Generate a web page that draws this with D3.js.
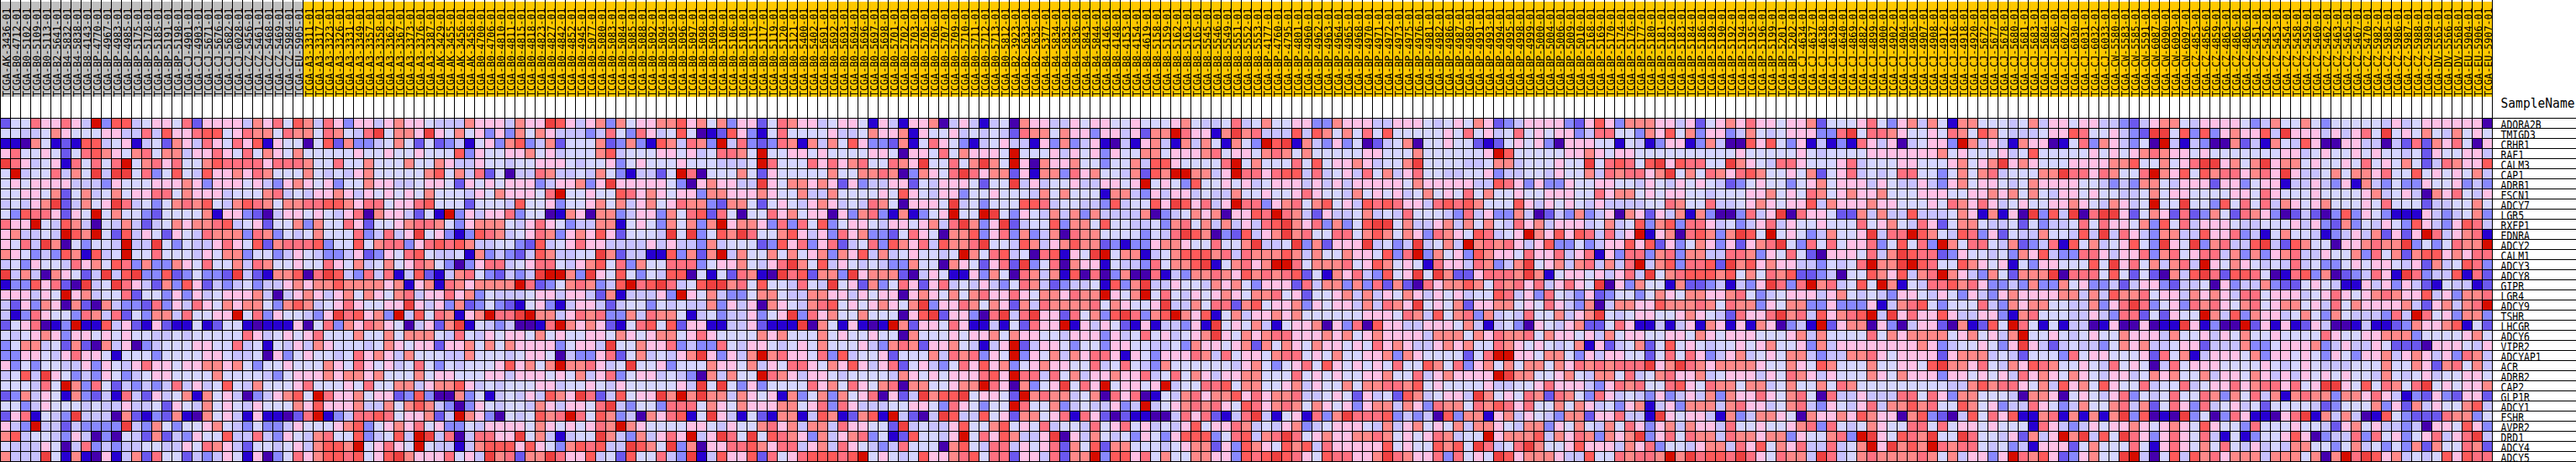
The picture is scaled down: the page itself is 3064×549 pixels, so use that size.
<!DOCTYPE html>
<html><head><meta charset="utf-8">
<style>html,body{margin:0;padding:0;background:#fff;overflow:hidden}svg{display:block}</style>
<script src="https://cdn.jsdelivr.net/npm/d3@7"></script></head><body><div id="chart"></div>
<script>
const genes=["ADORA2B","TMIGD3","CRHR1","RAF1","CALM3","CAP1","ADRB1","FSCN1","ADCY7","LGR5","RXFP1","EDNRA","ADCY2","CALM1","ADCY3","ADCY8","GIPR","LGR4","ADCY9","TSHR","LHCGR","ADCY6","VIPR2","ADCYAP1","ACR","ADRB2","CAP2","GLP1R","ADCY1","FSHR","AVPR2","DRD1","ADCY4","ADCY5"];
const graySamples=["AK-3436","B0-4712","B0-5102","B0-5109","B0-5113","B2-5641","B4-5832","B4-5838","B8-4143","BP-4770","BP-4967","BP-4983","BP-4985","BP-5175","BP-5178","BP-5185","BP-5191","BP-5198","CJ-4901","CJ-4903","CJ-5671","CJ-5676","CJ-5682","CJ-6028","CZ-5456","CZ-5461","CZ-5468","CZ-5469","CZ-5984","EU-5905"];
const orangeSamples=["A3-3311","A3-3317","A3-3323","A3-3326","A3-3331","A3-3349","A3-3357","A3-3358","A3-3362","A3-3367","A3-3373","A3-3376","A3-3387","AK-3429","AK-3455","AK-3456","AK-3458","B0-4700","B0-4706","B0-4810","B0-4811","B0-4815","B0-4818","B0-4823","B0-4827","B0-4842","B0-4852","B0-4945","B0-5077","B0-5080","B0-5083","B0-5084","B0-5085","B0-5088","B0-5092","B0-5094","B0-5095","B0-5096","B0-5097","B0-5098","B0-5099","B0-5100","B0-5106","B0-5108","B0-5115","B0-5117","B0-5119","B0-5120","B0-5121","B0-5400","B0-5402","B0-5691","B0-5692","B0-5693","B0-5694","B0-5696","B0-5697","B0-5698","B0-5701","B0-5702","B0-5703","B0-5705","B0-5706","B0-5707","B0-5709","B0-5710","B0-5711","B0-5712","B0-5713","B0-5812","B2-3923","B2-5633","B2-5635","B4-5377","B4-5834","B4-5835","B4-5836","B4-5843","B4-5844","B8-4146","B8-4148","B8-4153","B8-4154","B8-4619","B8-5158","B8-5159","B8-5162","B8-5163","B8-5165","B8-5545","B8-5546","B8-5549","B8-5551","B8-5552","B8-5553","BP-4177","BP-4760","BP-4795","BP-4801","BP-4960","BP-4962","BP-4963","BP-4964","BP-4965","BP-4968","BP-4970","BP-4971","BP-4972","BP-4973","BP-4975","BP-4976","BP-4981","BP-4982","BP-4986","BP-4987","BP-4989","BP-4991","BP-4993","BP-4994","BP-4995","BP-4998","BP-4999","BP-5000","BP-5004","BP-5006","BP-5009","BP-5010","BP-5168","BP-5169","BP-5170","BP-5174","BP-5176","BP-5177","BP-5180","BP-5181","BP-5182","BP-5183","BP-5184","BP-5186","BP-5189","BP-5190","BP-5192","BP-5194","BP-5195","BP-5196","BP-5199","BP-5201","BP-5202","CJ-4634","CJ-4637","CJ-4638","CJ-4639","CJ-4640","CJ-4869","CJ-4882","CJ-4899","CJ-4900","CJ-4902","CJ-4904","CJ-4905","CJ-4907","CJ-4908","CJ-4912","CJ-4916","CJ-4918","CJ-4920","CJ-5672","CJ-5677","CJ-5678","CJ-5680","CJ-5681","CJ-5683","CJ-5684","CJ-5686","CJ-6027","CJ-6030","CJ-6031","CJ-6032","CJ-6033","CW-5580","CW-5583","CW-5585","CW-5591","CW-6087","CW-6090","CW-6093","CW-6097","CZ-4853","CZ-4856","CZ-4859","CZ-4863","CZ-4865","CZ-4866","CZ-5451","CZ-5452","CZ-5453","CZ-5454","CZ-5458","CZ-5459","CZ-5460","CZ-5462","CZ-5463","CZ-5465","CZ-5467","CZ-5470","CZ-5982","CZ-5985","CZ-5986","CZ-5987","CZ-5988","CZ-5989","DV-5565","DV-5566","DV-5568","EU-5904","EU-5906","EU-5907"];
// colour level of each cell, base-12 digit, one string per gene; blocks of columns
const levelsA=["25586 6864B 39945 66582 66664 76859 74863","55445 76555 66448 49668 99568 77587 75875","11075 12199 45614 52764 86586 91655 05927","68556 52589 76578 57746 68658 57657 55555","A8645 61858 58B57 86855 79888 86888 75585","5B455 8475A 4AA58 35954 96676 87555 75454","56566 66444 36555 66676 36665 64367 65635","55665 72574 57566 88576 66455 57845 46676","45467 A2475 6A845 35787 95479 87577 88997","53988 6265B 57553 25555 71663 20466 56546","866B5 49740 54742 45767 78945 62557 37558","67445 4B97B 52946 52654 87773 87354 57555","6584A 70535 54B44 A5354 46865 92788 89355","76534 39719 45B55 85554 65773 55346 54334","45365 54867 59837 33765 85574 87556 55865","A4740 76524 A49A3 39235 332A4 21779 08A94","13396 820A4 5A864 27396 24345 34467 67797","66646 5B674 55825 53636 45666 74046 76467","42637 60720 74332 83648 65767 75379 74568","41386 55387 48253 77485 566B5 83655 436A8","25680 13B11 94621 62115 12551 01116 05837","54567 63665 65655 44545 55558 64565 68555","35774 52720 74603 45556 65584 51546 47655","33665 46866 51555 35555 66544 50635 65545","63535 54463 65468 66566 77675 35565 55765","4594A 65343 65345 66555 57555 54356 66767","55548 5B738 52434 34846 45954 75556 85556","23746 51732 41842 64571 75640 34679 5B866","55346 55545 44644 52654 75654 65557 69666","26815 43A44 40721 32710 75641 61102 8B134","643B4 42433 33A43 75355 67543 53346 55567","79455 43640 30542 72436 55944 84365 47855","54446 50483 43445 54465 87642 55456 47997","7444A 51710 61472 85524 34651 60358 67998"];
const levelsB=["66467 66544 47666 4766A 96467 37566 77967","48A57 76A65 75636 37576 44434 85386 45950","33457 52523 41563 79347 25557 23731 97487","65565 56555 93655 66756 45557 94555 66564","57555 75576 44655 45566 65455 63565 55655","67555 55795 74825 04487 44547 53144 25B80","57664 45665 26565 66634 66736 A6666 65306","46565 65755 54657 66658 B5565 59867 65663","68856 68955 52555 49556 35567 57467 56877","80766 4251B 36466 83550 17607 73466 37589","62556 78875 36777 54686 53447 71565 37573","83484 6A563 13987 45687 36769 62555 4A5A3","95788 36898 97445 53294 56866 44446 46443","62365 89544 51734 32497 4455A 72441 19372","74575 68753 03688 45688 54679 58375 58883","38481 49214 78532 434AB B73A6 59535 49905","77767 16718 76777 7B823 57873 49B89 A8459","57657 84668 67354 44566 46642 71444 63B65","65566 A6463 72353 21563 14664 24553 54544","9673B 49587 167B8 8AB77 46878 33748 77514","68765 04627 A1543 40018 B7676 21589 59266","75575 77754 85465 66575 65566 57656 77568","54576 56626 67575 76666 35664 A5576 68343","86764 75554 47555 45665 04336 82574 5467A","86564 58535 45556 96757 B7786 45A55 63555","76755 57566 55566 46665 65746 83566 45430","58557 74677 96454 55566 45565 46555 5564A","75662 39300 73514 54649 76A82 49566 A7B7A","74475 79743 03654 55476 46658 A4355 38885","88985 66724 B7630 54597 8B859 73407 68915","93567 68563 35466 66576 56568 7B765 55566","93459 4BA48 04886 6A574 1455A 74374 686B4","B5686 5B544 14799 96965 37989 44A97 5A370","9569A 76668 564A7 8277A 86694 52955 843A1"];
const levelsCol70="51355 57732 75775 1A775 16367 7577A 5664";
const levelsC=["73662 58766 45665 16416 67046 41450 76644","29631 58555 56445 76671 65564 54542 87757","B4832 38717 47596 33271 58653 14564 41637","8875B 55665 65555 66506 65857 6665B 55564","4445B 85558 68678 55876 A5585 7A75B 60766","55752 65555 57557 78703 7658A 86772 61773","6644A 65776 76263 44662 54666 5255A 46455","76667 65574 47555 56596 54663 55655 54757","27752 56546 76454 87506 665A4 53555 99845","85055 86756 60637 83171 356B5 5BA53 65474","B6776 38385 93566 54665 6748A 736A2 45593","97A85 57964 63867 33258 65077 93683 73470","45552 39683 68245 83976 84977 8A554 97467","B4755 75756 73769 47456 5545B 75894 50891","66754 68A75 94654 54337 55076 52682 A3580","52871 0A892 773A6 77720 46511 63750 87471","A7859 55485 4A562 73586 26845 46435 87423","43357 75447 76646 56606 76575 78668 65776","36460 76547 89565 67657 A3668 75762 74877","34463 56A38 67557 55506 9A266 308A4 8A662","14462 111A0 75161 01B72 66586 11415 2866B","55557 67555 75655 65507 55565 66757 66554","85466 54565 75556 43787 26675 4146B 24665","3647B 78665 83945 56255 57487 8365B 36574","66574 65886 57696 46825 64358 69673 56766","4755B 87646 65455 55476 56566 6896B 88485","A5363 55558 67586 57807 75567 7B860 7356A","74765 61735 73756 80624 A799A 56652 B7877","65766 67756 83864 44556 65386 5355B 85573","64152 17714 97127 91B42 04A94 49562 77568","46557 86747 74866 552A4 54469 55795 65845","A85A5 98763 74678 35129 5546B 58697 446A0","68897 68846 74865 43485 55079 54884 65682","96692 85689 9989B 56545 96678 95882 66482"];
const levelsD=["65665 56555 67544 58457 55663 37666 44666","66366 46277 B8661 7A784 44949 75758 59555","34610 41674 17475 1753B 9A174 36350 24570","65636 55775 66678 56657 87575 55556 65557","75535 57499 65555 8B575 55859 56676 4557A","86755 47297 BB774 6B886 89948 45648 57468","64466 56B56 53955 65645 66646 46466 66657","55517 74364 66454 47556 55686 55475 65645","54439 45596 A9684 6B883 67857 95649 89866","73744 44703 45767 06698 B8742 64457 45485","77595 54453 78574 74648 9A768 37359 AA574","87755 55354 8A970 32946 7A785 58857 97576","97723 13367 76558 557A4 45A37 2666A 4534A","65AB5 77145 79997 84877 79747 55766 5938B","76615 44385 779A1 57867 BB857 77856 97565","90803 70081 43778 76978 78925 17684 3956A","44519 37A44 65547 67536 66284 77373 82720","877B6 57B58 54656 76577 85625 56747 46576","77857 6556A 44758 82795 66736 56647 4876A","85739 A8379 B7691 57466 76755 55556 66587","16465 21614 4361A 56574 15667 06380 96644","66636 45856 4567A 65767 88666 76756 76666","35536 65544 53766 56727 57657 66565 86764","76886 16536 66874 85665 78856 57556 67376","55845 85437 55555 54675 35685 96565 65855","74667 66845 85764 66775 55856 56556 67558","586B5 6656B 45588 95775 56746 55757 78879","45708 68015 47867 79686 77844 56526 45297","45446 34B45 67878 65986 78757 65636 77476","18620 21100 48682 148A4 15618 37A88 89343","54856 85645 46956 68745 46734 56665 47467","64754 53653 69993 58947 8A856 76677 87565","75927 75554 56772 63976 59794 86666 69565","77B39 96857 55776 63989 A9865 98866 7A876"];
const levelsE=["54565 76234 66663 26963 77766 46256 76866","55658 56458 56566 34885 53769 57366 34754","55655 21256 56306 66551 54136 61374 00969","55555 56B95 55556 67656 65555 55555 56555","55554 45774 55565 5A589 859A6 98855 A7654","55445 56344 55465 57487 8867A 57587 68975","66666 44986 36336 55665 54654 65654 23565","75658 57556 55666 55867 75656 65545 55667","48989 75559 64656 54644 44558 75584 45676","55438 46337 40243 73460 76264 71730 03846","46747 57548 67466 64574 59379 38864 53468","38765 98456 B7696 98484 6B167 08973 7A95B","4574B 78786 46933 53466 96926 35763 62678","37563 97665 86684 68163 88378 37744 88736","18664 87347 A5674 78474 8B479 38892 A7967","5A722 68887 A7156 65646 84A57 89997 95758","86779 75878 68468 65A06 37551 72234 1436A","46564 55984 63854 36235 53576 57766 78534","56572 66775 65864 37047 76697 77875 87736","49578 37454 85574 67A54 56655 67654 28668","66657 41453 06546 72258 61141 46176 16176","47775 76877 85766 56475 66556 65765 66655","46767 55876 56545 71624 57259 56545 56567","55552 58BB6 65775 36466 55258 58634 67456","97583 67575 77576 87878 88A67 A8767 77765","46766 66BA7 75567 54775 84578 66745 66646","56555 56445 56866 64368 78558 96587 75774","45664 A7565 87287 53864 54363 46473 76686","38775 87986 85575 76453 67146 37774 78664","40937 71674 65437 72668 441A6 56641 73477","56574 77654 77365 75475 86367 47664 85565","68745 5B677 79476 87376 7A368 58774 87767","59795 A8458 A7556 96664 76835 54677 48695","68385 65A96 77764 49558 7887B 7A899 8A865"];
const levelsCol176="55558 5555A 45A56 7855A 05555 55556 5778";
const levelsF=["66725 55685 36747 51775 55457 46656 64432","66633 8A588 76556 58759 75444 56698 55643","36141 31864 60456 63B74 64176 60158 37643","56545 55566 66666 75655 56459 55555 65656","86555 68455 56655 56756 7A676 55566 66779","65725 68454 58855 35757 84555 77A88 68755","35675 66646 54464 36756 65457 66665 54343","65875 67667 55566 65566 76757 54665 65544","66947 66676 65556 58768 64565 56676 54764","08665 22747 44944 45761 7160A 394A0 8AA62","65565 55856 75486 25775 44525 34458 58665","65347 556A4 88B97 54983 62544 75549 4A486","53858 56683 59583 B7588 54723 48195 74569","85206 66584 7A988 23655 45376 94338 86466","64435 458B7 7AB98 55976 56153 66555 95A68","92234 05597 69478 B7643 75277 7A088 85952","38B78 4595B 71548 89786 33437 33756 33424","66646 75454 36654 65364 36766 66774 74977","77336 33361 47895 35558 43767 75544 7368A","78496 789B4 A6866 96446 63178 55544 64388","341B2 67706 30466 20712 95B85 15144 01600","67475 55585 76777 75675 647B5 56545 65576","56374 66666 66676 34556 536A6 42454 43576","77434 47786 56666 26777 45425 55385 66555","76597 55575 56659 A7768 54769 87556 54856","87646 55576 57666 36656 56486 76576 54664","75575 87555 55555 54479 78865 74967 59655","78508 44644 48858 63775 55407 76056 54683","78436 54684 77978 55975 63448 65347 55784","50766 76976 60793 20495 86911 78171 717A3","67838 54576 55885 85665 65551 86434 65667","36557 83BA6 5987A 55A85 54627 46B7A 495A8","68448 457B6 A797B 87885 45341 66625 75558","774A8 45787 77787 57466 36B87 96236 755AB"];
const levelsG=["46775 46666 53475 57535 55554 64566 66660","2AA59 39367 6694A 66646 4685A 56575 47565","50B41 43007 24175 49600 66440 42827 68506","78766 56555 55556 64565 56565 54526 55664","55756 8AA67 57A67 75655 65856 57524 87669","8B769 59788 6786A 64457 57768 55956 56574","77546 66266 35661 44643 61743 53365 56343","57566 55556 65865 55655 55674 56407 68546","5B55A 55395 85847 65675 55658 55524 45575","57628 23752 87630 24203 93653 11164 34573","73958 46665 44555 64632 73546 53964 36984","43774 49668 34157 55413 46472 626B8 46781","53A65 A3784 49A42 97550 66787 7A353 5877B","83785 68847 37367 84465 57385 72799 67688","57478 4B657 65454 84533 56566 54627 45983","52074 9A829 98501 89370 23486 1A834 49182","66324 45063 44732 25654 11646 36421 54412","85664 76764 88566 64568 65678 76694 63778","83563 87865 78567 75648 57666 67426 7478B","25265 5B749 37664 57537 54443 84B85 63773","6011A 61300 B2616 12640 01411 23766 79152","66475 56465 75565 55586 55667 77355 55675","74456 62444 73356 66734 64465 22206 66546","62857 14666 57366 56536 53667 46764 63874","50485 66655 55654 56544 45557 55762 78574","57675 57466 57646 46565 65547 54564 55665","84558 45668 67886 856AA 65958 758A5 65667","54585 58737 58471 78773 77686 41326 32662","72586 38456 45255 55423 55573 62746 55794","9010A 35038 61106 8A174 74019 53222 87735","65676 59655 38555 65542 67564 43406 65963","63686 58415 13556 96034 48385 63568 468A4","51686 57585 46454 77553 57453 53727 55872","40594 97867 77477 75707 B8A96 74545 96988"];
const palette=["#4500AD","#2700D1","#6B58EF","#8888FF","#C7C1FF","#D5D5FF","#FFC0E5","#FF8989","#FF7080","#FF5A5A","#EF4040","#D60C00"];

const clean=s=>s.replace(/ /g,"");
const col70=clean(levelsCol70), col176=clean(levelsCol176);
const rows=genes.map((g,r)=>clean(levelsA[r])+clean(levelsB[r])+col70[r]+clean(levelsC[r])+clean(levelsD[r])+clean(levelsE[r])+col176[r]+clean(levelsF[r])+clean(levelsG[r]));

const samples=graySamples.concat(orangeSamples);
const W=3064,H=549;
const x=d3.scaleBand().domain(samples).range([0,2964]);
const y=d3.scaleBand().domain(genes).range([140,548]);
const color=d3.scaleOrdinal().domain(d3.range(12)).range(palette);
const groupColor=d3.scaleOrdinal().domain(["gray","orange"]).range(["#C0C0C0","#FFC800"]);
const grayset=new Set(graySamples);
const svg=d3.select("#chart").append("svg").attr("width",W).attr("height",H).attr("viewBox",`0 0 ${W} ${H}`);
const font="'DejaVu Sans Mono',monospace";

svg.append("g").selectAll("rect").data(samples).join("rect")
  .attr("x",d=>x(d)).attr("y",2).attr("width",x.bandwidth()).attr("height",113)
  .attr("fill",d=>groupColor(grayset.has(d)?"gray":"orange"));

svg.append("g").selectAll("text").data(samples).join("text")
  .attr("transform",d=>`translate(${x(d)+12},115) rotate(-90) scale(0.899,1)`)
  .attr("font-family",font).attr("font-size",13).attr("fill","#000")
  .text(d=>"TCGA-"+d+"-01");

const cells=[];
rows.forEach((s,r)=>Array.from(s).forEach((ch,c)=>{ if(c<samples.length) cells.push({gene:genes[r],sample:samples[c],v:parseInt(ch,12)}); }));
svg.append("g").attr("shape-rendering","crispEdges").selectAll("rect").data(cells).join("rect")
  .attr("x",d=>x(d.sample)+0.5).attr("y",d=>y(d.gene)+0.5)
  .attr("width",x.bandwidth()).attr("height",y.bandwidth())
  .attr("fill",d=>color(d.v)).attr("stroke","#000").attr("stroke-width",1);

svg.append("g").attr("shape-rendering","crispEdges").selectAll("line").data(samples.concat(["__end"])).join("line")
  .attr("x1",d=>d==="__end"?2964.5:x(d)+0.5).attr("x2",d=>d==="__end"?2964.5:x(d)+0.5)
  .attr("y1",0).attr("y2",140).attr("stroke","#000");

svg.append("g").attr("shape-rendering","crispEdges").selectAll("line").data(d3.range(genes.length+1)).join("line")
  .attr("x1",2964).attr("x2",W)
  .attr("y1",i=>140.5+i*y.bandwidth()).attr("y2",i=>140.5+i*y.bandwidth()).attr("stroke","#000");

svg.append("g").selectAll("text").data(genes).join("text")
  .attr("transform",d=>`translate(2974.5,${y(d)+12.6}) scale(0.843,1)`)
  .attr("font-family",font).attr("font-size",13.6).attr("fill","#000")
  .text(d=>d);

svg.append("text").attr("transform","translate(2974.5,127.5) scale(0.962,1)")
  .attr("font-family",font).attr("font-size",15.2).attr("fill","#000")
  .text("SampleName");
</script></body></html>
